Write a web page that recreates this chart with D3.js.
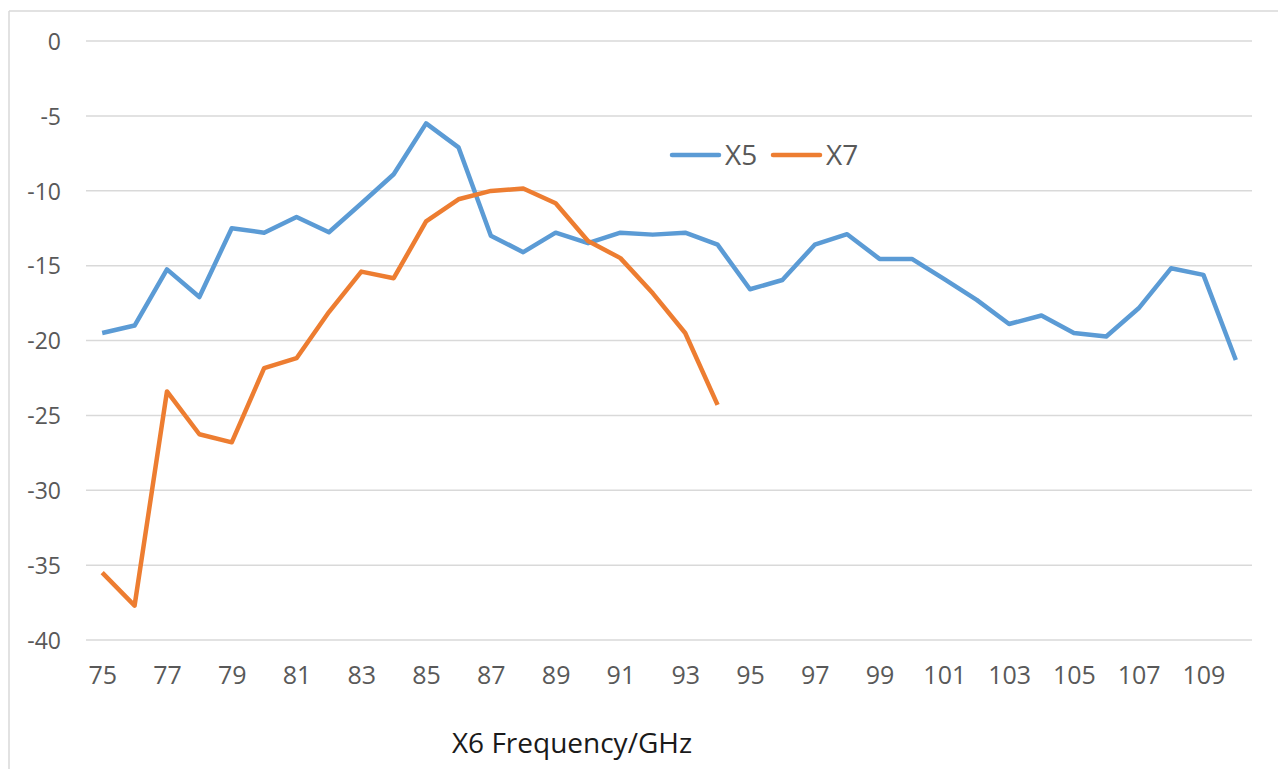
<!DOCTYPE html>
<html>
<head>
<meta charset="utf-8">
<script src="https://cdn.jsdelivr.net/npm/d3@7"></script>
<style>
  html, body { margin: 0; padding: 0; background: #fff; }
  svg { display: block; }
</style>
</head>
<body>
<svg id="chart" width="1278" height="769"></svg>
<script>
const categories = d3.range(75, 111); // 75..110 GHz
const x5Values = [-19.5, -19.0, -15.25, -17.1, -12.5, -12.8, -11.75, -12.77, -10.85, -8.9,
  -5.5, -7.1, -13.0, -14.1, -12.8, -13.5, -12.8, -12.93, -12.8, -13.6,
  -16.58, -15.96, -13.6, -12.9, -14.55, -14.55, -15.9, -17.29, -18.9, -18.33,
  -19.5, -19.73, -17.85, -15.18, -15.62, -21.3];
const x7Values = [-35.5, -37.7, -23.4, -26.26, -26.8, -21.85, -21.18, -18.1, -15.4, -15.84,
  -12.05, -10.57, -10.01, -9.85, -10.84, -13.35, -14.5, -16.85, -19.5, -24.3];
const yTicks = [0, -5, -10, -15, -20, -25, -30, -35, -40];
const xTickLabels = d3.range(75, 111, 2);
const seriesNames = ["X5", "X7"];
const seriesColors = ["#5B9BD5", "#ED7D31"];
const xTitle = "X6 Frequency/GHz";

const svg = d3.select("#chart");

// frame
svg.append("line").attr("x1", 9).attr("x2", 1278).attr("y1", 11).attr("y2", 11)
  .attr("stroke", "#d9d9d9").attr("stroke-width", 1.5);
svg.append("line").attr("x1", 9).attr("x2", 9).attr("y1", 11).attr("y2", 769)
  .attr("stroke", "#d9d9d9").attr("stroke-width", 1.5);

const x = d3.scalePoint().domain(categories).range([86, 1252]).padding(0.5);
const y = d3.scaleLinear().domain([-40, 0]).range([640, 41]);

// gridlines
svg.append("g").selectAll("line").data(yTicks).join("line")
  .attr("x1", 86).attr("x2", 1252)
  .attr("y1", d => y(d)).attr("y2", d => y(d))
  .attr("stroke", "#d9d9d9").attr("stroke-width", 1.5);

// y axis labels
const yAxis = d3.axisLeft(y).tickValues(yTicks).tickSize(0).tickPadding(0).tickFormat(d3.format("d"));
const gy = svg.append("g").attr("transform", "translate(61,0)").call(yAxis);
gy.select(".domain").remove();
gy.selectAll("text").attr("font-family", "'Open Sans', sans-serif").attr("font-size", 23)
  .attr("fill", "#595959").attr("dy", "0.36em").text(d => d === 0 ? "0" : "-" + Math.abs(d));

// x axis labels
const xAxis = d3.axisBottom(x).tickValues(xTickLabels).tickSize(0).tickPadding(0);
const gx = svg.append("g").attr("transform", "translate(0,0)").call(xAxis);
gx.select(".domain").remove();
gx.selectAll("text").attr("font-family", "'Open Sans', sans-serif").attr("font-size", 25)
  .attr("fill", "#595959").attr("y", 684).attr("dy", 0);

// lines
const line = d3.line().x((d, i) => x(categories[i])).y(d => y(d));
[x5Values, x7Values].forEach((vals, k) => {
  svg.append("path").datum(vals)
    .attr("d", line)
    .attr("fill", "none")
    .attr("stroke", seriesColors[k])
    .attr("stroke-width", 4.5)
    .attr("stroke-linejoin", "round");
});

// legend
const legendX = [672, 773];
seriesNames.forEach((name, k) => {
  const g = svg.append("g");
  g.append("line").attr("x1", legendX[k]).attr("x2", legendX[k] + 47)
    .attr("y1", 155).attr("y2", 155)
    .attr("stroke", seriesColors[k]).attr("stroke-width", 4.5).attr("stroke-linecap", "round");
  g.append("text").attr("x", legendX[k] + 53).attr("y", 165)
    .attr("font-family", "'Open Sans', sans-serif").attr("font-size", 28)
    .attr("fill", "#595959").text(name);
});

// x title
svg.append("text").attr("x", 572).attr("y", 753).attr("text-anchor", "middle")
  .attr("font-family", "'Open Sans', sans-serif").attr("font-size", 28)
  .attr("fill", "#1a1a1a").text(xTitle);
</script>
</body>
</html>
